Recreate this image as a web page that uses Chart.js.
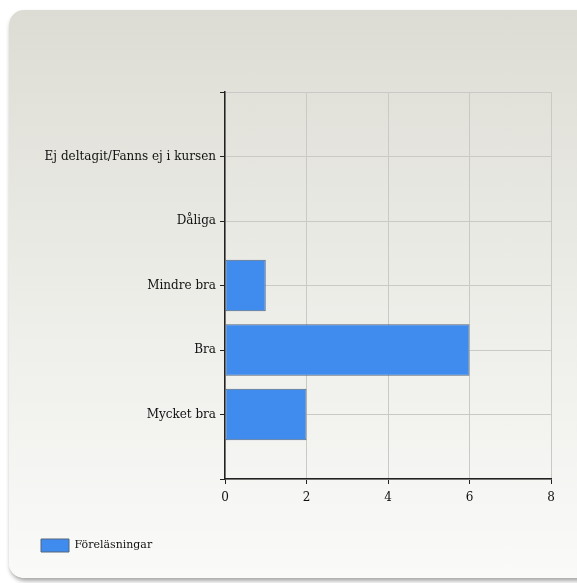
<!DOCTYPE html>
<html>
<head>
<meta charset="utf-8">
<script src="https://cdn.jsdelivr.net/npm/chart.js@4"></script>
<style>
  html, body { margin: 0; padding: 0; background: #fff; overflow: hidden; }
  .panel {
    position: absolute; left: 9px; top: 10px; width: 590px; height: 568px;
    border-radius: 15px;
    background: linear-gradient(to bottom, #dddcd4 0%, #ebebe6 45%, #fafaf9 100%);
    box-shadow: 1px 3px 4px rgba(0,0,0,0.35);
  }
  #chart { position: absolute; left: 0; top: 0; }
</style>
</head>
<body>
<div class="panel"></div>
<canvas id="chart" width="577" height="583"></canvas>
<script>
// values
const categories = ['Ej deltagit/Fanns ej i kursen', 'Dåliga', 'Mindre bra', 'Bra', 'Mycket bra'];
const values = [0, 0, 1, 6, 2];
const seriesName = 'Föreläsningar';
const xTicks = [0, 2, 4, 6, 8];

// empty slot above and below so the grid has a line at top and bottom
const labels = [''].concat(categories, ['']);
const data = [null].concat(values, [null]);

const serif = "'DejaVu Serif', 'Liberation Serif', serif";

let ctx = document.getElementById('chart').getContext('2d');

let chart = new Chart(ctx, {
  type: 'bar',
  data: {
    labels: labels,
    datasets: [{
      label: seriesName,
      data: data,
      backgroundColor: '#3f8bee',
      borderColor: '#56677d',
      borderWidth: 1,
      borderSkipped: false,
      barPercentage: 0.8,
      categoryPercentage: 1
    }]
  },
  options: {
    indexAxis: 'y',
    responsive: false,
    animation: false,
    layout: { padding: { left: 31, right: 26, top: 92, bottom: 21 } },
    plugins: {
      tooltip: { enabled: false },
      legend: {
        position: 'bottom',
        align: 'start',
        labels: {
          boxWidth: 28,
          boxHeight: 13,
          padding: 10,
          color: '#111',
          font: { family: serif, size: 11 }
        }
      }
    },
    scales: {
      x: {
        min: 0,
        max: 8,
        afterBuildTicks: s => { s.ticks = xTicks.map(v => ({ value: v })); },
        afterFit: s => { s.height = 50; },
        grid: { color: '#c9c9c5', tickColor: '#222', tickLength: 5, lineWidth: 1 },
        border: { color: '#222', width: 1.5 },
        ticks: { color: '#111', padding: 7, font: { family: serif, size: 12 } }
      },
      y: {
        offset: false,
        afterFit: s => { s.width = 194; },
        grid: { offset: false, color: '#c9c9c5', tickColor: '#222', tickLength: 5, lineWidth: 1 },
        border: { color: '#222', width: 1.5 },
        ticks: { color: '#111', padding: 4, font: { family: serif, size: 12 } }
      }
    }
  }
});
</script>
</body>
</html>
